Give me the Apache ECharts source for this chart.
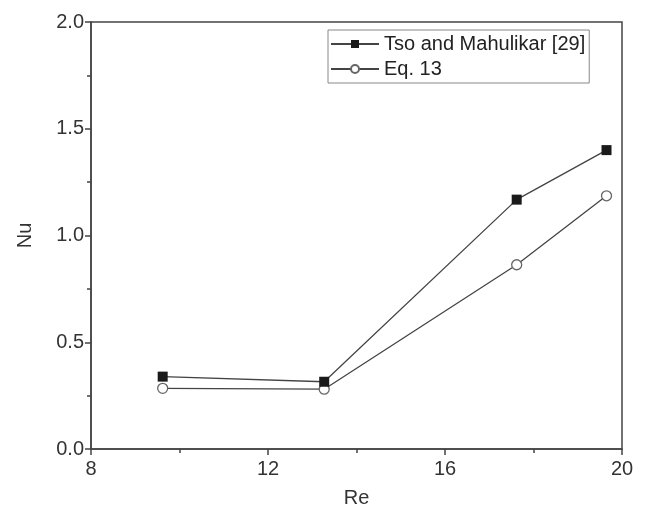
<!DOCTYPE html>
<html>
<head>
<meta charset="utf-8">
<script src="https://cdn.jsdelivr.net/npm/echarts@6/dist/echarts.min.js"></script>
<style>
html,body{margin:0;padding:0;background:#fff;}
#chart{width:646px;height:523px;}
</style>
</head>
<body>
<div id="chart"></div>
<script>
const reValues = [9.62, 13.27, 17.62, 19.65];
const tsoNu = [0.339, 0.315, 1.168, 1.400];
const eqNu = [0.284, 0.280, 0.863, 1.186];
const seriesNames = ['Tso and Mahulikar [29]', 'Eq. 13'];

const chart = echarts.init(document.getElementById('chart'), null, {renderer: 'canvas'});
const font = 'Liberation Sans, Arial, sans-serif';
const axisCol = '#444';

function pairs(xs, ys){ return xs.map((x,i)=>[x, ys[i]]); }

chart.setOption({
  animation: false,
  backgroundColor: '#fff',
  grid: {left: 91, top: 22, width: 531, height: 427, show: true, borderColor: axisCol, borderWidth: 1.5, backgroundColor: 'transparent'},
  legend: {
    left: 328, top: 30, orient: 'vertical',
    borderColor: '#888', borderWidth: 1, padding: [4, 4, 4, 2],
    itemWidth: 48, itemHeight: 10, itemGap: 5,
    textStyle: {fontFamily: font, fontSize: 20, color: '#222'},
    data: seriesNames
  },
  xAxis: {
    type: 'value', min: 8, max: 20, interval: 4,
    name: 'Re', nameLocation: 'middle', nameGap: 39,
    nameTextStyle: {fontFamily: font, fontSize: 20, color: '#333'},
    axisLine: {show: true, onZero: false, lineStyle: {color: axisCol, width: 1.5}},
    axisTick: {show: true, inside: false, length: 6, lineStyle: {color: axisCol, width: 1.5}},
    minorTick: {show: true, splitNumber: 2, length: 4, lineStyle: {color: axisCol, width: 1.5}},
    axisLabel: {fontFamily: font, fontSize: 20, color: '#333', margin: 10},
    splitLine: {show: false}
  },
  yAxis: {
    type: 'value', min: 0, max: 2, interval: 0.5,
    name: 'Nu', nameLocation: 'middle', nameGap: 56, nameRotate: 90,
    nameTextStyle: {fontFamily: font, fontSize: 20, color: '#333'},
    axisLine: {show: true, onZero: false, lineStyle: {color: axisCol, width: 1.5}},
    axisTick: {show: true, inside: false, length: 6, lineStyle: {color: axisCol, width: 1.5}},
    minorTick: {show: true, splitNumber: 2, length: 4, lineStyle: {color: axisCol, width: 1.5}},
    axisLabel: {fontFamily: font, fontSize: 20, color: '#333', margin: 7, formatter: v => v.toFixed(1)},
    splitLine: {show: false}
  },
  series: [
    {
      name: seriesNames[0], type: 'line', data: pairs(reValues, tsoNu),
      symbol: 'rect', symbolSize: 10, showAllSymbol: true,
      lineStyle: {color: '#444', width: 1.3},
      itemStyle: {color: '#1a1a1a', borderColor: '#1a1a1a', borderWidth: 0},
      z: 3
    },
    {
      name: seriesNames[1], type: 'line', data: pairs(reValues, eqNu),
      symbol: 'circle', symbolSize: 10, showAllSymbol: true,
      lineStyle: {color: '#444', width: 1.3},
      itemStyle: {color: '#fff', borderColor: '#666', borderWidth: 1.3},
      z: 2
    }
  ]
});
</script>
</body>
</html>
